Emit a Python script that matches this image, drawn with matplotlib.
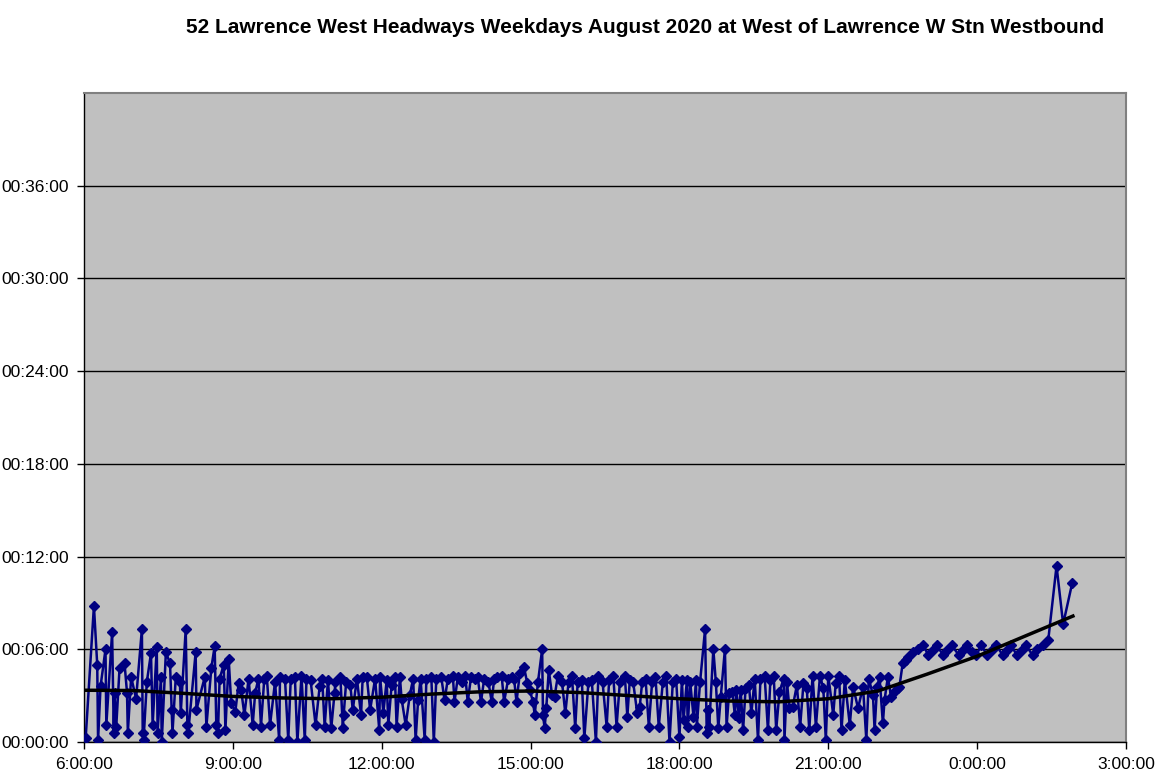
import matplotlib
matplotlib.use("Agg")
import matplotlib.pyplot as plt
import numpy as np
from matplotlib.ticker import FuncFormatter, MultipleLocator

plt.rcParams['font.family'] = ['Liberation Sans', 'DejaVu Sans']

title = "52 Lawrence West Headways Weekdays August 2020 at West of Lawrence W Stn Westbound"

# departure times (clock) and headway in minutes
times_am = ["6:02", "6:12", "6:16", "6:17", "6:20", "6:26", "6:27", "6:34", "6:36", "6:37",
            "6:39", "6:43", "6:49", "6:52", "6:53", "6:57", "7:03", "7:10", "7:11", "7:12",
            "7:16", "7:21", "7:23", "7:28", "7:29", "7:33", "7:34", "7:39", "7:44", "7:46",
            "7:47", "7:51", "7:56", "7:57", "8:03", "8:05", "8:06", "8:15", "8:16", "8:26",
            "8:28", "8:34", "8:38", "8:40", "8:42", "8:44", "8:49", "8:51", "8:55", "8:58"]
hw_am = [0.25, 8.8, 5.0, 0.1, 3.6, 6.0, 1.1, 7.1, 0.6, 3.2,
         1.0, 4.8, 5.1, 3.2, 0.6, 4.2, 2.8, 7.3, 0.6, 0.1,
         3.9, 5.75, 1.1, 6.15, 0.6, 4.2, 0.0, 5.8, 5.1, 2.1,
         0.6, 4.2, 3.9, 1.9, 7.3, 1.1, 0.6, 5.8, 2.1, 4.2,
         1.0, 4.8, 6.2, 1.1, 0.6, 4.1, 5.0, 0.8, 5.35, 2.5]

times_md = ["9:03", "9:07", "9:10", "9:14", "9:19", "9:24", "9:27", "9:31", "9:34", "9:38",
            "9:41", "9:45", "9:51", "9:56", "9:57", "10:03", "10:07", "10:10", "10:15", "10:18",
            "10:23", "10:27", "10:29", "10:34", "10:40", "10:45", "10:48", "10:51", "10:55", "10:59",
            "11:03", "11:04", "11:10", "11:13", "11:14", "11:17", "11:22", "11:25", "11:30", "11:35",
            "11:37", "11:42", "11:46", "11:52", "11:57", "11:58", "12:02", "12:06", "12:08", "12:12",
            "12:16", "12:18", "12:22", "12:24", "12:29", "12:34", "12:38", "12:41", "12:44", "12:47",
            "12:52", "12:54"]
hw_md = [1.96, 3.8, 3.36, 1.75, 4.1, 1.1, 3.2, 4.1, 1.0, 4.1,
         4.3, 1.1, 3.9, 0.13, 4.2, 4.1, 0.13, 4.1, 4.2, 0.0,
         4.3, 0.1, 4.1, 4.0, 1.1, 3.6, 4.1, 1.0, 4.0, 0.9,
         3.2, 3.9, 4.2, 0.9, 1.75, 3.9, 3.7, 2.07, 4.1, 1.75,
         4.2, 4.2, 2.07, 4.1, 0.8, 4.2, 1.9, 4.0, 1.1, 3.7,
         4.2, 1.0, 4.2, 2.8, 1.1, 3.04, 4.1, 0.13, 2.7, 4.1,
         0.13, 4.1]

times_pm = ["13:00", "13:03", "13:06", "13:12", "13:16", "13:20", "13:26", "13:28", "13:32", "13:37",
            "13:41", "13:44", "13:48", "13:53", "13:56", "14:00", "14:04", "14:09", "14:13", "14:16",
            "14:20", "14:25", "14:28", "14:33", "14:37", "14:40", "14:43", "14:47", "14:52", "14:56",
            "14:59", "15:03", "15:05", "15:09", "15:14", "15:15", "15:17", "15:19", "15:22", "15:26",
            "15:29", "15:33", "15:38", "15:42", "15:46", "15:50", "15:54", "15:57"]
hw_pm = [4.2, 0.0, 4.1, 4.2, 2.7, 4.1, 4.3, 2.6, 4.2, 3.9,
         4.3, 2.6, 4.2, 4.1, 4.2, 2.6, 4.1, 3.9, 2.6, 4.1,
         4.2, 4.3, 2.6, 4.1, 4.2, 4.1, 2.6, 4.45, 4.87, 3.8,
         3.36, 2.6, 1.75, 3.9, 6.0, 1.75, 0.9, 2.2, 4.65, 3.04,
         2.93, 4.3, 3.9, 1.85, 3.9, 4.3, 0.9, 3.9]

times_ev = ["16:02", "16:05", "16:10", "16:14", "16:19", "16:22", "16:27", "16:32", "16:35", "16:40",
            "16:44", "16:48", "16:54", "16:57", "17:00", "17:04", "17:09", "17:12", "17:15", "17:19",
            "17:23", "17:27", "17:31", "17:35", "17:40", "17:44", "17:48", "17:52", "17:56", "18:00",
            "18:03", "18:05", "18:09", "18:10", "18:13", "18:17", "18:20", "18:21", "18:25", "18:31",
            "18:33", "18:35", "18:36", "18:41", "18:44", "18:47", "18:50", "18:55", "18:57"]
hw_ev = [4.0, 0.24, 3.9, 4.0, 0.0, 4.3, 3.9, 1.0, 4.0, 4.3,
         1.0, 3.9, 4.3, 1.64, 4.0, 3.9, 1.85, 2.28, 3.9, 4.1,
         1.0, 3.9, 4.2, 1.0, 3.9, 4.3, 0.0, 3.9, 4.1, 0.3,
         4.0, 1.42, 4.0, 1.0, 3.9, 1.64, 4.0, 1.0, 3.9, 7.3,
         0.56, 2.07, 1.0, 6.0, 3.9, 0.9, 2.93, 6.0, 1.0]

times_nt = ["19:00", "19:04", "19:07", "19:09", "19:12", "19:14", "19:17", "19:20", "19:24", "19:27",
            "19:31", "19:35", "19:38", "19:43", "19:47", "19:50", "19:54", "19:57", "20:01", "20:06",
            "20:07", "20:10", "20:13", "20:17", "20:22", "20:26", "20:30", "20:34", "20:37", "20:41",
            "20:45", "20:50", "20:54", "20:57", "21:00", "21:06", "21:09", "21:13", "21:16", "21:20",
            "21:26", "21:30", "21:36", "21:42", "21:46", "21:49", "21:54", "21:56", "21:59", "22:02",
            "22:06", "22:08", "22:12", "22:16", "22:20", "22:24", "22:26"]
hw_nt = [3.15, 3.25, 1.75, 3.36, 1.53, 3.36, 0.78, 3.47, 3.68, 1.85,
         4.1, 0.13, 4.1, 4.3, 0.78, 4.0, 4.3, 0.78, 3.25, 4.1,
         0.13, 3.9, 2.18, 2.28, 3.68, 1.0, 3.8, 3.47, 0.78, 4.3,
         1.0, 4.3, 3.47, 0.13, 4.3, 1.75, 3.8, 4.3, 0.78, 4.0,
         1.1, 3.58, 2.18, 3.58, 0.13, 4.1, 3.04, 0.78, 3.58, 4.2,
         1.2, 2.7, 4.2, 2.93, 3.25, 3.47, 3.58]

times_lt = ["22:30", "22:34", "22:36", "22:42", "22:49", "22:55", "23:01", "23:07", "23:11", "23:19",
            "23:23", "23:29", "23:38", "23:43", "23:48", "23:54", "23:59", "0:05", "0:12", "0:18",
            "0:23", "0:31", "0:36", "0:41", "0:48", "0:54", "0:59", "1:07", "1:12", "1:20",
            "1:26", "1:36", "1:44", "1:55"]
hw_lt = [5.1, 5.3, 5.5, 5.85, 6.05, 6.27, 5.6, 5.95, 6.27, 5.62,
         5.95, 6.27, 5.62, 5.95, 6.27, 5.84, 5.62, 6.27, 5.62, 5.95,
         6.27, 5.62, 5.95, 6.27, 5.62, 5.95, 6.27, 5.62, 6.0, 6.27,
         6.6, 11.4, 7.63, 10.3]

# trendline (hour of service day, minutes)
trend_hours = [6, 7, 8, 9, 10, 11, 12, 13, 14, 15, 16, 17, 18, 19, 20, 21, 22, 23, 24, 25, 25.93]
trend_vals = [3.35, 3.33, 3.15, 2.95, 2.85, 2.8, 2.9, 3.1, 3.25, 3.3, 3.2, 3.0, 2.8, 2.65,
              2.6, 2.8, 3.3, 4.4, 5.55, 6.9, 8.15]


def to_hours(s):
    h, m = map(int, s.split(":"))
    if h < 6:
        h += 24
    return h + m / 60.0


all_times = times_am + times_md + times_pm + times_ev + times_nt + times_lt
all_hw = hw_am + hw_md + hw_pm + hw_ev + hw_nt + hw_lt
x = np.array([to_hours(t) for t in all_times])
y = np.array(all_hw)

fig = plt.figure(figsize=(11.58, 7.82), dpi=100)
ax = fig.add_axes([84 / 1158, 1 - 742 / 782, (1126 - 84) / 1158, (742 - 93) / 782])
ax.set_facecolor("#C0C0C0")

ax.plot(x, y, color="#000080", lw=1.8, marker="D", ms=5, zorder=3)
ax.plot(trend_hours, trend_vals, color="black", lw=2.5, zorder=4)

ax.set_xlim(6, 27)
ax.set_ylim(0, 42)
ax.xaxis.set_major_locator(MultipleLocator(3))
ax.set_yticks(np.arange(0, 37, 6))
ax.xaxis.set_major_formatter(FuncFormatter(lambda v, p: f"{int(round(v)) % 24}:00:00"))
ax.yaxis.set_major_formatter(FuncFormatter(lambda v, p: f"00:{int(round(v)):02d}:00"))
ax.grid(axis="y", color="black", lw=1.0)
ax.set_axisbelow(True)
ax.tick_params(axis="both", direction="out", length=5, width=1, labelsize=12.5, pad=6)

for side in ["top", "right"]:
    ax.spines[side].set_color("#808080")
    ax.spines[side].set_linewidth(1.5)
for side in ["left", "bottom"]:
    ax.spines[side].set_color("black")
    ax.spines[side].set_linewidth(1.0)

fig.text(0.557, 0.965, title, ha="center", va="center", fontsize=15, fontweight="bold")

fig.savefig("out.png", dpi=100)
